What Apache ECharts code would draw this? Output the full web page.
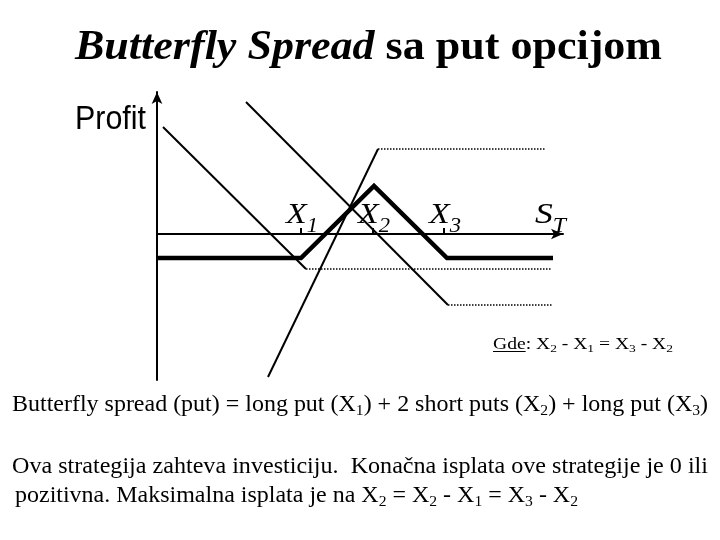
<!DOCTYPE html>
<html><head><meta charset="utf-8">
<script src="https://cdn.jsdelivr.net/npm/echarts@6/dist/echarts.min.js"></script>
<style>html,body{margin:0;padding:0;background:#fff}#c{width:720px;height:540px}</style>
</head><body><div id="c"></div>
<script>
// ---- data (x = S_T, y = profit, schematic units) ----
const strikeNames = ['1', '2', '3'];
const strikes = [144, 216, 287];
const stLabelValue = 394;
const butterflyX = [0, 144, 217, 290, 396];
const butterflyY = [-24, -24, 48, -24, -24];
const longPut1X = [6, 149];
const longPut1Y = [107, -35];
const longPut1FlatX = [149, 395];
const longPut1FlatY = [-35, -35];
const longPut3X = [89, 291];
const longPut3Y = [132, -71];
const longPut3FlatX = [291, 395];
const longPut3FlatY = [-71, -71];
const shortPutsX = [111, 221];
const shortPutsY = [-143, 85];
const shortPutsFlatX = [221, 388];
const shortPutsFlatY = [85, 85];

const zip = (xs, ys) => xs.map((x, i) => [x, ys[i]]);

// ---- text helper ----
const ctx = document.createElement('canvas').getContext('2d');
function measure(t, f) { ctx.font = f; return ctx.measureText(t).width; }
function baseOff(f) { ctx.font = f; ctx.textBaseline = 'middle'; const m = ctx.measureText('H'); ctx.textBaseline = 'alphabetic'; return m.actualBoundingBoxDescent; }
const graphics = [];
function textLine(segs, x0, x1, baseline) {
  const widths = segs.map(s => measure(s.t, s.f));
  const total = widths.reduce((a, b) => a + b, 0);
  const sc = (x1 - x0) / total;
  let x = x0;
  segs.forEach((s, i) => {
    const dy = s.dy || 0;
    graphics.push({
      type: 'text', x: x, y: baseline + dy - baseOff(s.f), scaleX: sc, silent: true,
      style: { text: s.t, font: s.f, fill: '#000', align: 'left', verticalAlign: 'middle' }
    });
    if (s.u) {
      graphics.push({ type: 'line', silent: true,
        shape: { x1: x, y1: baseline + 2.5, x2: x + widths[i] * sc, y2: baseline + 2.5 },
        style: { stroke: '#000', lineWidth: 1.2 } });
    }
    x += widths[i] * sc;
  });
}
const SERIF = '"Liberation Serif", "Times New Roman", serif';
const f42i = 'italic bold 42px ' + SERIF, f42 = 'bold 42px ' + SERIF;
textLine([{ t: 'Butterfly Spread', f: f42i }, { t: ' sa put opcijom', f: f42 }], 75, 662, 59);
textLine([{ t: 'Profit', f: '33px "Liberation Sans", Arial, sans-serif' }], 75, 146, 129);

const m16 = '16px ' + SERIF, s11 = '11px ' + SERIF;
textLine([
  { t: 'Gde', f: m16, u: true }, { t: ': X', f: m16 }, { t: '2', f: s11, dy: 3 },
  { t: ' - X', f: m16 }, { t: '1', f: s11, dy: 3 }, { t: ' = X', f: m16 }, { t: '3', f: s11, dy: 3 },
  { t: ' - X', f: m16 }, { t: '2', f: s11, dy: 3 }
], 493, 673, 349);

const m22 = '23px ' + SERIF, s15 = '15px ' + SERIF;
textLine([
  { t: 'Butterfly spread (put) = long put (X', f: m22 }, { t: '1', f: s15, dy: 4 },
  { t: ') + 2 short puts (X', f: m22 }, { t: '2', f: s15, dy: 4 },
  { t: ') + long put (X', f: m22 }, { t: '3', f: s15, dy: 4 }, { t: ')', f: m22 }
], 12, 708, 411);
textLine([{ t: 'Ova strategija zahteva investiciju.  Konačna isplata ove strategije je 0 ili', f: m22 }], 12, 708, 473);
textLine([
  { t: 'pozitivna. Maksimalna isplata je na X', f: m22 }, { t: '2', f: s15, dy: 4 },
  { t: ' = X', f: m22 }, { t: '2', f: s15, dy: 4 }, { t: ' - X', f: m22 }, { t: '1', f: s15, dy: 4 },
  { t: ' = X', f: m22 }, { t: '3', f: s15, dy: 4 }, { t: ' - X', f: m22 }, { t: '2', f: s15, dy: 4 }
], 15, 578, 502);

function lineSeries(data, width, dotted) {
  return { type: 'line', data: data, symbol: 'none', silent: true, animation: false,
    lineStyle: { color: '#000', width: width, type: dotted ? [1.5, 1.5] : 'solid', cap: 'butt', join: 'miter' } };
}

const chart = echarts.init(document.getElementById('c'), null, { renderer: 'canvas' });
chart.setOption({
  animation: false,
  backgroundColor: '#fff',
  grid: { left: 157, top: 92, width: 406, height: 288, containLabel: false, outerBoundsMode: 'none' },
  xAxis: {
    type: 'value', min: 0, max: 406,
    axisLine: { show: true, onZero: true, symbol: ['none', 'arrow'], symbolSize: [8, 12], lineStyle: { color: '#000', width: 2 } },
    splitLine: { show: false },
    axisTick: { show: true, inside: true, length: 6, customValues: strikes, lineStyle: { color: '#000', width: 2 } },
    axisLabel: { show: false }
  },
  yAxis: {
    type: 'value', min: -146, max: 142,
    axisLine: { show: true, symbol: ['none', 'arrow'], symbolSize: [8, 12], lineStyle: { color: '#000', width: 2 } },
    axisTick: { show: false }, axisLabel: { show: false }, splitLine: { show: false }
  },
  series: [
    lineSeries(zip(longPut1X, longPut1Y), 2, false),
    lineSeries(zip(longPut1FlatX, longPut1FlatY), 1.5, true),
    lineSeries(zip(longPut3X, longPut3Y), 2, false),
    lineSeries(zip(longPut3FlatX, longPut3FlatY), 1.5, true),
    lineSeries(zip(shortPutsX, shortPutsY), 2, false),
    lineSeries(zip(shortPutsFlatX, shortPutsFlatY), 1.5, true),
    lineSeries(zip(butterflyX, butterflyY), 4.5, false)
  ]
});

// axis labels for strikes and S_T, positioned through the axis scale
const fx = 'italic 30px ' + SERIF, fs = 'italic 20px ' + SERIF;
strikes.forEach((v, i) => {
  const p = chart.convertToPixel({ gridIndex: 0 }, [v, 0]);
  textLine([{ t: 'X', f: fx }, { t: strikeNames[i], f: fs, dy: 9 }], p[0] - 15, p[0] + 17, p[1] - 11);
});
(function () {
  const p = chart.convertToPixel({ gridIndex: 0 }, [stLabelValue, 0]);
  textLine([{ t: 'S', f: fx }, { t: 'T', f: fs, dy: 9 }], p[0] - 16, p[0] + 15, p[1] - 11);
})();
chart.setOption({ graphic: { elements: graphics } });
</script>
</body></html>
